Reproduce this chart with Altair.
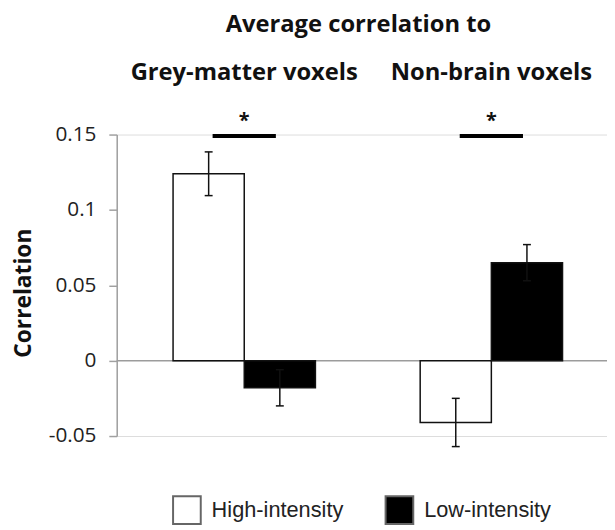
import altair as alt
import pandas as pd

groups = ["Grey-matter voxels", "Non-brain voxels"]
conditions = ["High-intensity", "Low-intensity"]
means_high = [0.124, -0.041]
means_low = [-0.018, 0.065]
err_high = [0.0145, 0.016]
err_low = [0.012, 0.012]
sig_y = [0.149, 0.149]
sig_text = ["*", "*"]
y_ticks = [-0.05, 0, 0.05, 0.1, 0.15]

rows = []
for i, g in enumerate(groups):
    for c, m, e in ((conditions[0], means_high[i], err_high[i]), (conditions[1], means_low[i], err_low[i])):
        rows.append({"group": g, "cond": c, "mean": m, "lo": m - e, "hi": m + e})
df = pd.DataFrame(rows)
caps = pd.concat([
    df[["group", "cond"]].assign(v=df["lo"]),
    df[["group", "cond"]].assign(v=df["hi"]),
])
sig_df = pd.DataFrame({"group": groups, "y": sig_y, "star": sig_text})
zero_df = pd.DataFrame({"y": [0.0]})

FONT = "Open Sans"

x_enc = alt.X(
    "group:N",
    sort=groups,
    scale=alt.Scale(paddingInner=0, paddingOuter=0, range=[4, 504]),
    axis=alt.Axis(
        orient="top", title="Average correlation to", labelAngle=0,
        domain=False, ticks=False, tickSize=0, labelLimit=0,
        labelFont=FONT, labelFontWeight="bold", labelFontSize=24, labelColor="#111",
        labelPadding=51,
        titleFont=FONT, titleFontWeight="bold", titleFontSize=24, titleColor="#111",
        titleX=244, titleY=-99, titleAlign="center", titleBaseline="bottom",
    ),
)
xo_enc = alt.XOffset("cond:N", sort=conditions, scale=alt.Scale(paddingInner=0, paddingOuter=0.736))
y_scale = alt.Scale(domain=[-0.05, 0.15], nice=False, zero=False)

zero = alt.Chart(zero_df).mark_rule(color="#9c9c9c", strokeWidth=1.5).encode(
    y=alt.Y("y:Q", scale=y_scale)
)

bars = alt.Chart(df).mark_bar(stroke="#111", strokeWidth=1.5).encode(
    x=x_enc,
    xOffset=xo_enc,
    y=alt.Y(
        "mean:Q", scale=y_scale,
        axis=alt.Axis(
            values=y_ticks, grid=False,
            labelExpr="replace(format(datum.value, '~g'), '\u2212', '-')",
            domainColor="#a0a0a0", domainWidth=1.5,
            tickColor="#a0a0a0", tickWidth=1.5, tickSize=8,
            labelFont=FONT, labelFontSize=21, labelColor="#222", labelPadding=13,
            title="Correlation", titleFont=FONT, titleFontWeight="bold",
            titleFontSize=23, titleColor="#111",
            titleX=-94, titleY=160, titleAlign="center", titleBaseline="middle", titleAngle=270,
        ),
    ),
    color=alt.Color(
        "cond:N",
        scale=alt.Scale(domain=conditions, range=["white", "black"]),
        legend=alt.Legend(
            orient="none", legendX=56, legendY=365, direction="horizontal", title=None,
            symbolType="square", symbolSize=784, symbolStrokeColor="#666", symbolStrokeWidth=2,
            labelFont="Liberation Sans", labelFontSize=22, labelColor="#222",
            labelOffset=10, columnPadding=38, labelLimit=0,
        ),
    ),
)

err = alt.Chart(df).mark_rule(color="#111", strokeWidth=1.5).encode(
    x=alt.X("group:N", sort=groups),
    xOffset=alt.XOffset("cond:N", sort=conditions),
    y="lo:Q",
    y2="hi:Q",
)

cap = alt.Chart(caps).mark_tick(color="#111", size=8, thickness=1.5, opacity=1).encode(
    x=alt.X("group:N", sort=groups),
    xOffset=alt.XOffset("cond:N", sort=conditions),
    y="v:Q",
)

sig = alt.Chart(sig_df).mark_tick(color="black", size=64, thickness=4, opacity=1).encode(
    x=alt.X("group:N", sort=groups),
    y="y:Q",
)

star = alt.Chart(sig_df).mark_text(
    font=FONT, fontSize=20, fontWeight="bold", color="#111", baseline="bottom", dy=-5
).encode(
    x=alt.X("group:N", sort=groups),
    y="y:Q",
    text="star:N",
)

chart = alt.layer(zero, bars, err, cap, sig, star).properties(
    width=496, height=305,
    autosize=alt.AutoSizeParams(type="none"),
    padding={"left": 110, "top": 125, "right": 0, "bottom": 90},
).configure_view(stroke=None).configure(background="white")

chart.save("out.html", embed_options={"renderer": "svg", "actions": False})
